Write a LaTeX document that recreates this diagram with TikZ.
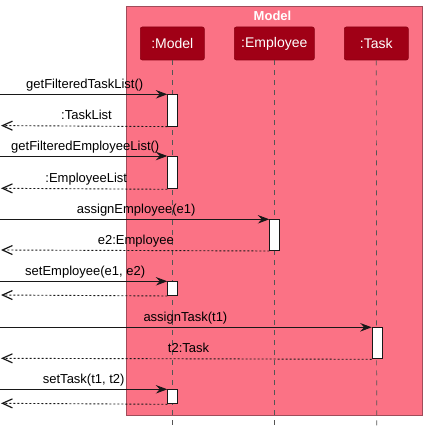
\documentclass[tikz,border=0pt]{standalone}
\usepackage{fontspec}
\setmainfont{Liberation Sans}
\usetikzlibrary{arrows.meta}
\definecolor{framepink}{HTML}{FB7285}
\definecolor{frameedge}{HTML}{A04C5A}
\definecolor{partred}{HTML}{A00016}
\definecolor{partedge}{HTML}{8A0012}
\definecolor{lifegrey}{HTML}{555555}
\definecolor{msgcol}{HTML}{181818}
\tikzset{
  partbox/.style={draw=partedge, fill=partred, rounded corners=2pt, text=white,
    font=\fontsize{14}{16}\selectfont, minimum height=33pt, inner sep=0pt, line width=0.6pt},
  lifeline/.style={draw=lifegrey, dash pattern=on 5pt off 5pt, line width=0.7pt},
  actbox/.style={draw=msgcol, fill=white, minimum width=10pt, inner sep=0pt, anchor=north west, line width=1pt},
  callmsg/.style={draw=msgcol, line width=0.9pt, -{Stealth[length=11.5pt,width=8.5pt,inset=4pt]}},
  retmsg/.style={draw=msgcol, line width=0.9pt, dash pattern=on 2pt off 2pt, -{Straight Barb[length=10pt,width=9pt,line width=1.2pt]}},
  msglabel/.style={font=\fontsize{13}{15}\selectfont, inner sep=0pt, text=black},
}
\begin{document}
\begin{tikzpicture}[x=1pt,y=-1pt]
\useasboundingbox (0,0) rectangle (427,427);
% frame
\draw[fill=framepink, draw=frameedge, line width=0.8pt] (126.3,6.3) rectangle (422,415.3);
\node[font=\bfseries\fontsize{13}{15}\selectfont, text=white, inner sep=0pt] (title) at (272.5,15.5) {Model};
% participants
\node[partbox, minimum width=64pt] (pm) at (172.3,43.5) {:Model};
\node[partbox, minimum width=80pt] (pe) at (274.3,43.5) {:Employee};
\node[partbox, minimum width=64pt] (pt) at (376.3,43.5) {:Task};
\coordinate (lm) at (172.3,427);
\coordinate (le) at (274.3,427);
\coordinate (lt) at (376.7,427);
\draw[lifeline] (pm.south) -- (lm);
\draw[lifeline] (pe.south) -- (le);
\draw[lifeline] (pt.south) -- (lt);
% activations
\node[actbox, minimum height=31.3pt] (a1) at (167.3,94.3) {};
\node[actbox, minimum height=32.3pt] (a2) at (167.3,156) {};
\node[actbox, minimum height=30.7pt] (a3) at (269.3,219.3) {};
\node[actbox, minimum height=13.7pt] (a4) at (167.3,281.3) {};
\node[actbox, minimum height=31pt] (a5) at (371.7,327.3) {};
\node[actbox, minimum height=14pt] (a6) at (167.3,389.3) {};
% endpoints at left
\coordinate (s1) at (0,94.3);   \coordinate (r1) at (1,125.6);
\coordinate (s2) at (0,156);    \coordinate (r2) at (1,188.3);
\coordinate (s3) at (0,219.3);  \coordinate (r3) at (1,250);
\coordinate (s4) at (0,281.3);  \coordinate (r4) at (1,295);
\coordinate (s5) at (0,327.3);  \coordinate (r5) at (1,358.3);
\coordinate (s6) at (0,389.3);  \coordinate (r6) at (1,403.3);
% messages
\draw[callmsg] (s1) -- (a1.north west);
\draw[retmsg] (a1.south west) -- (r1);
\draw[callmsg] (s2) -- (a2.north west);
\draw[retmsg] (a2.south west) -- (r2);
\draw[callmsg] (s3) -- (a3.north west);
\draw[retmsg] (a3.south west) -- (r3);
\draw[callmsg] (s4) -- (a4.north west);
\draw[retmsg] (a4.south west) -- (r4);
\draw[callmsg] (s5) -- (a5.north west);
\draw[retmsg] (a5.south west) -- (r5);
\draw[callmsg] (s6) -- (a6.north west);
\draw[retmsg] (a6.south west) -- (r6);
% labels
\node[msglabel, anchor=base west] (m1) at (26,88.7) {getFilteredTaskList()};
\node[msglabel, anchor=base east] (m1r) at (112,119.9) {:TaskList};
\node[msglabel, anchor=base west] (m2) at (11,150.4) {getFilteredEmployeeList()};
\node[msglabel, anchor=base east] (m2r) at (127.3,182.6) {:EmployeeList};
\node[msglabel, anchor=base west] (m3) at (76.7,213.7) {assignEmployee(e1)};
\node[msglabel, anchor=base east] (m3r) at (174,244.4) {e2:Employee};
\node[msglabel, anchor=base west] (m4) at (25,275.7) {setEmployee(e1, e2)};
\node[msglabel, anchor=base west] (m5) at (143.3,321.7) {assignTask(t1)};
\node[msglabel, anchor=base east] (m5r) at (209.3,352.6) {t2:Task};
\node[msglabel, anchor=base west] (m6) at (42.7,383.7) {setTask(t1, t2)};
\end{tikzpicture}
\end{document}
